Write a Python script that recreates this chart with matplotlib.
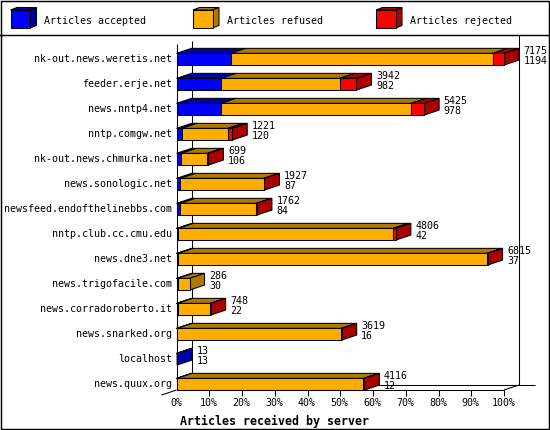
import matplotlib
matplotlib.use('Agg')
import matplotlib.pyplot as plt
from matplotlib.patches import Polygon, Rectangle

# ---------------- data ----------------
servers = [
    'nk-out.news.weretis.net', 'feeder.erje.net', 'news.nntp4.net',
    'nntp.comgw.net', 'nk-out.news.chmurka.net', 'news.sonologic.net',
    'newsfeed.endofthelinebbs.com', 'nntp.club.cc.cmu.edu', 'news.dne3.net',
    'news.trigofacile.com', 'news.corradoroberto.it', 'news.snarked.org',
    'localhost', 'news.quux.org',
]
totals = [7175, 3942, 5425, 1221, 699, 1927, 1762, 4806, 6815, 286, 748, 3619, 13, 4116]
accepted = [1194, 982, 978, 120, 106, 87, 84, 42, 37, 30, 22, 16, 13, 12]
refused = [5733, 2594, 4162, 1004, 568, 1830, 1663, 4704, 6768, 256, 721, 3598, 0, 4084]
rejected = [248, 366, 285, 97, 25, 10, 15, 60, 10, 0, 5, 5, 0, 20]
legend_labels = ['Articles accepted', 'Articles refused', 'Articles rejected']
xtick_values = [0, 10, 20, 30, 40, 50, 60, 70, 80, 90, 100]
xtick_labels = ['0%', '10%', '20%', '30%', '40%', '50%', '60%', '70%', '80%', '90%', '100%']
xlabel = 'Articles received by server'

FRONT = ['#0000FF', '#FFAE00', '#FF0000']
DARK = ['#0000AA', '#B07800', '#AA0000']
FONT = 'DejaVu Sans Mono'
FS = 7.2
LW = 0.75

W, H = 550, 430
fig = plt.figure(figsize=(5.5, 4.3), dpi=100)
fig.patch.set_facecolor('white')

# background axes in pixel units (frame + legend)
bg = fig.add_axes([0, 0, 1, 1])
bg.set_xlim(0, W)
bg.set_ylim(H, 0)
bg.axis('off')
bg.add_patch(Rectangle((0.5, 0.5), W - 1.5, H - 1.5, fill=False, ec='black', lw=LW * 1.4))
bg.plot([0, W], [35, 35], color='black', lw=LW * 1.4)

# legend cubes
leg_x = [10.5, 193.0, 376.0]
for lx, lab, fc, dc in zip(leg_x, legend_labels, FRONT, DARK):
    fw, fh, ddx, ddy = 19.5, 18.0, 6.5, -2.5
    top = 10.0
    bg.add_patch(Polygon([(lx, top), (lx + fw, top), (lx + fw + ddx, top + ddy), (lx + ddx, top + ddy)],
                         closed=True, fc=dc, ec='black', lw=LW))
    bg.add_patch(Polygon([(lx + fw, top), (lx + fw, top + fh), (lx + fw + ddx, top + fh + ddy),
                          (lx + fw + ddx, top + ddy)], closed=True, fc=dc, ec='black', lw=LW))
    bg.add_patch(Rectangle((lx, top), fw, fh, fc=fc, ec='black', lw=LW))
    bg.text(lx + 34, 23.5, lab, fontfamily=FONT, fontsize=FS, ha='left', va='baseline')

# ---------------- main (data) axes ----------------
X0, X1 = 176.5, 504.0      # 0% and 100% (front plane) in px
Y0, YB = 44.0, 390.0       # top of front frame, baseline in px
SPACING = 25.0
FIRST_CENTER = 59.2
ax = fig.add_axes([X0 / W, 1 - YB / H, (X1 - X0) / W, (YB - Y0) / H])
PX = 100.0 / (X1 - X0)     # percent per pixel
PY = 1.0 / SPACING         # index per pixel
ax.set_xlim(0, 100)
ybase = (YB - FIRST_CENTER) * PY
ytop = (Y0 - FIRST_CENTER) * PY
ax.set_ylim(ybase, ytop)
ax.axis('off')

DX = 15 * PX
DY = -5 * PY
HALF = 5.85 * PY

def line(xs, ys, z=1):
    ax.plot(xs, ys, color='black', lw=LW, clip_on=False, zorder=z, solid_capstyle='butt')

# back wall / floor
line([DX, DX], [(40.7 - FIRST_CENTER) * PY, ybase + DY])
line([100 + DX, 100 + DX], [(35 - FIRST_CENTER) * PY, ybase + DY])
line([DX, (535 - X0) * PX], [ybase + DY, ybase + DY])
# front frame
line([0, 0], [ytop, ybase], z=5)
line([0, 100], [ybase, ybase], z=5)
line([100, 100 + DX], [ybase, ybase + DY], z=5)
line([0, -DX], [ybase, ybase - DY], z=5)
for v, lab in zip(xtick_values, xtick_labels):
    if v > 0:
        line([v, v], [ybase, ybase + 5.5 * PY], z=5)
    ax.text(v - 0.5 * PX, ybase + 16.5 * PY, lab, fontfamily=FONT, fontsize=FS,
            ha='center', va='baseline', clip_on=False)
ax.text(3.5 * PX, ybase + 35 * PY, xlabel, fontfamily=FONT, fontsize=8.4,
        fontweight='bold', ha='left', va='baseline', clip_on=False)

vmax = max(totals)
for i, name in enumerate(servers):
    segs = [accepted[i], refused[i], rejected[i]]
    top = i - HALF
    bot = i + HALF
    cum = 0.0
    last = 0
    for k, s in enumerate(segs):
        if s <= 0:
            continue
        x0 = cum / vmax * 100
        x1 = (cum + s) / vmax * 100
        cum += s
        last = k
        ax.add_patch(Polygon([(x0, top), (x1, top), (x1 + DX, top + DY), (x0 + DX, top + DY)],
                             closed=True, fc=DARK[k], ec='black', lw=LW, zorder=3, clip_on=False))
        ax.add_patch(Rectangle((x0, top), x1 - x0, bot - top, fc=FRONT[k], ec='black',
                               lw=LW, zorder=4, clip_on=False))
    xe = cum / vmax * 100
    ax.add_patch(Polygon([(xe, top), (xe, bot), (xe + DX, bot + DY), (xe + DX, top + DY)],
                         closed=True, fc=DARK[last], ec='black', lw=LW, zorder=3, clip_on=False))
    # value labels
    bt = top + DY
    lx = xe + DX + 4.5 * PX
    ax.text(lx, bt + 5.2 * PY, str(totals[i]), fontfamily=FONT, fontsize=FS,
            ha='left', va='baseline', clip_on=False, zorder=6)
    ax.text(lx, bt + 15.8 * PY, str(accepted[i]), fontfamily=FONT, fontsize=FS,
            ha='left', va='baseline', clip_on=False, zorder=6)
    # category label
    ax.text(-4.5 * PX, i + 3.0 * PY, name, fontfamily=FONT, fontsize=FS,
            ha='right', va='baseline', clip_on=False)

fig.savefig('out.png', dpi=100, facecolor='white')
